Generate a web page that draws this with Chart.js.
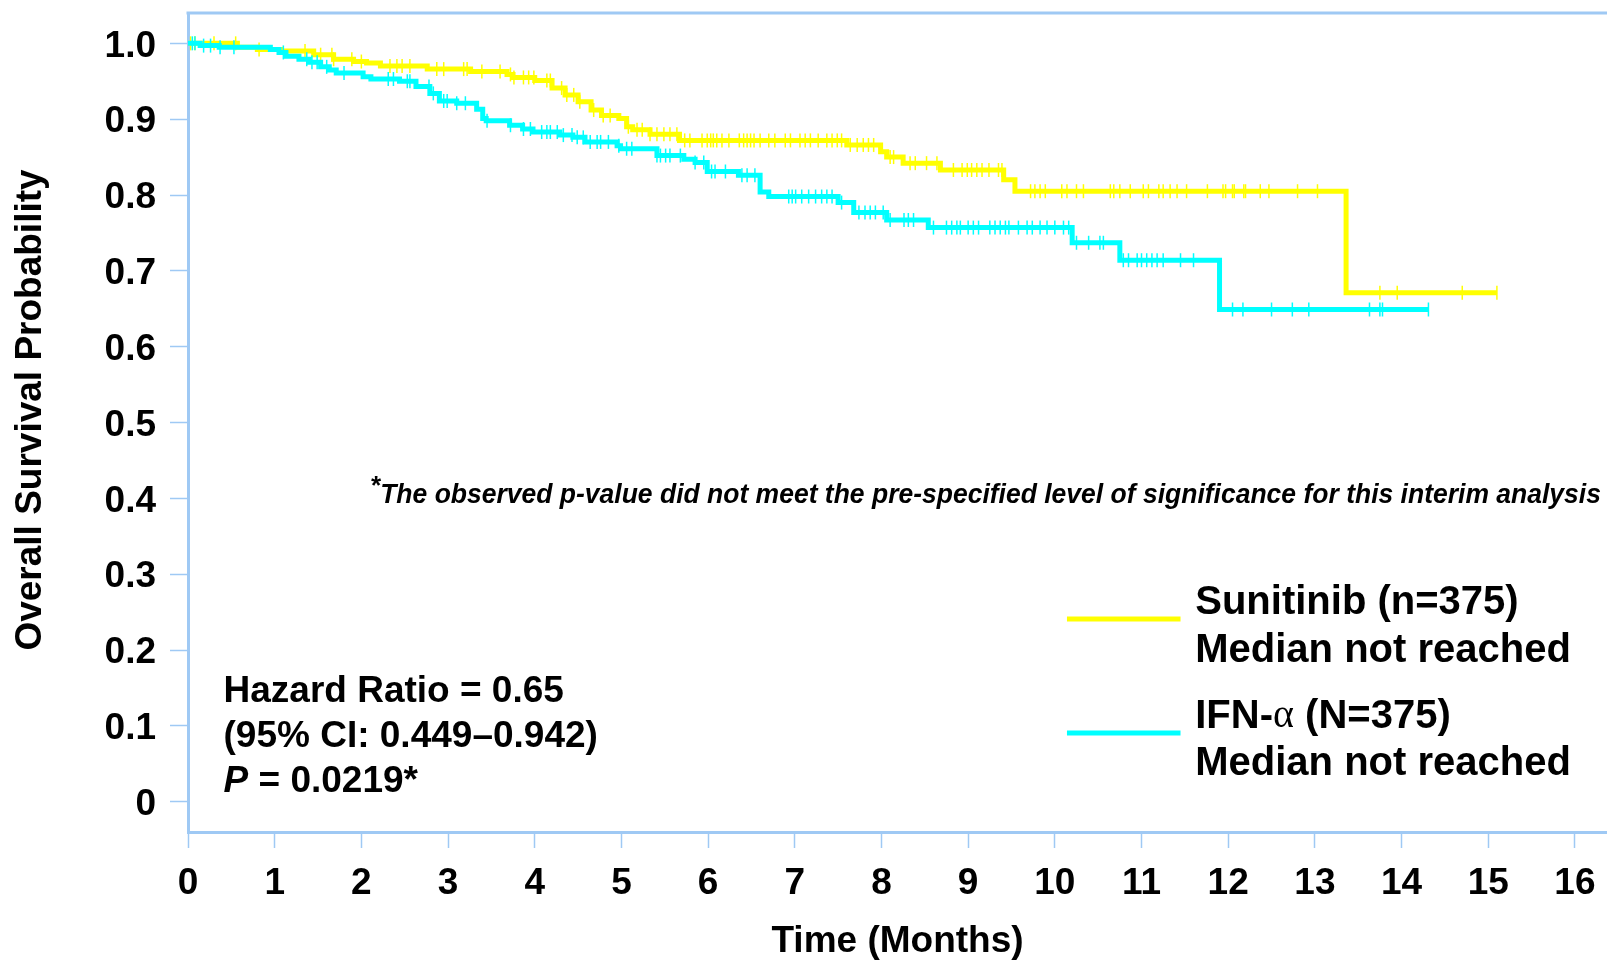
<!DOCTYPE html>
<html>
<head>
<meta charset="utf-8">
<script src="https://cdn.jsdelivr.net/npm/chart.js@4.4.1/dist/chart.umd.min.js"></script>
<style>
html,body{margin:0;padding:0;background:#fff;overflow:hidden}
canvas{display:block}
</style>
</head>
<body>
<canvas id="km" width="1607" height="962"></canvas>
<script>
// Kaplan-Meier steps: time (months) -> survival after the drop
const sunTimes = [0, 0.57, 0.80, 1.07, 1.45, 1.68, 1.91, 2.06, 2.22, 2.76, 3.26, 3.68, 3.75, 4.00, 4.20, 4.35, 4.50, 4.65, 4.77, 4.97, 5.06, 5.13, 5.33, 5.67, 7.60, 7.99, 8.06, 8.25, 8.68, 9.41, 9.54, 13.36, 15.10];
const sunSurv  = [1.0, 0.995, 0.992, 0.990, 0.985, 0.979, 0.976, 0.974, 0.970, 0.966, 0.963, 0.959, 0.955, 0.951, 0.941, 0.932, 0.923, 0.912, 0.905, 0.901, 0.890, 0.886, 0.880, 0.872, 0.866, 0.857, 0.850, 0.842, 0.833, 0.820, 0.805, 0.671, 0.671];

const ifnTimes = [0, 0.14, 0.36, 0.95, 1.05, 1.13, 1.28, 1.40, 1.53, 1.63, 1.71, 2.02, 2.11, 2.44, 2.63, 2.79, 2.90, 3.10, 3.33, 3.40, 3.44, 3.71, 3.86, 3.98, 4.29, 4.44, 4.58, 4.95, 4.99, 5.41, 5.72, 5.85, 5.99, 6.35, 6.60, 6.70, 7.50, 7.68, 8.06, 8.54, 10.20, 10.75, 11.90, 14.31];
const ifnSurv  = [1.0, 0.997, 0.995, 0.992, 0.988, 0.983, 0.979, 0.975, 0.969, 0.965, 0.961, 0.956, 0.953, 0.950, 0.943, 0.934, 0.924, 0.921, 0.913, 0.901, 0.898, 0.892, 0.887, 0.883, 0.879, 0.876, 0.870, 0.865, 0.861, 0.852, 0.847, 0.843, 0.831, 0.826, 0.804, 0.798, 0.790, 0.777, 0.767, 0.757, 0.737, 0.714, 0.649, 0.649];

// censored observations (tick marks), months
const sunCensor = [0.03,0.08,0.30,0.55,0.82,1.35,1.53,1.66,1.68,1.89,2.00,2.33,2.41,2.47,2.56,2.87,2.95,3.18,3.22,3.39,3.60,3.72,3.76,3.87,3.93,3.99,4.14,4.18,4.31,4.37,4.45,4.52,4.68,4.79,4.87,5.08,5.18,5.24,5.33,5.41,5.49,5.56,5.64,5.73,5.79,5.93,5.99,6.03,6.06,6.10,6.16,6.24,6.36,6.41,6.45,6.49,6.53,6.60,6.70,6.77,6.89,6.95,7.06,7.12,7.18,7.27,7.37,7.43,7.49,7.54,7.64,7.72,7.79,7.85,7.91,8.10,8.14,8.33,8.39,8.52,8.64,8.83,8.93,8.99,9.04,9.10,9.16,9.24,9.35,9.39,9.72,9.77,9.83,9.89,10.08,10.14,10.25,10.33,10.64,10.68,10.75,10.87,11.02,11.08,11.20,11.25,11.33,11.41,11.52,11.76,11.94,11.97,12.05,12.07,12.18,12.20,12.37,12.47,12.80,13.03,13.75,13.95,14.70,15.10];
const ifnCensor = [0.05,0.08,0.18,0.26,0.37,0.53,1.10,1.37,1.43,1.49,1.60,1.80,2.31,2.37,2.53,2.56,2.78,2.83,2.95,2.99,3.10,3.20,3.45,3.72,3.87,3.95,4.08,4.14,4.18,4.26,4.33,4.43,4.49,4.56,4.64,4.72,4.76,4.85,4.97,5.06,5.12,5.41,5.45,5.51,5.56,5.68,5.85,5.95,6.04,6.08,6.20,6.39,6.45,6.54,6.93,6.97,7.01,7.08,7.16,7.24,7.31,7.37,7.43,7.54,7.74,7.81,7.87,7.93,8.02,8.10,8.26,8.31,8.37,8.60,8.75,8.81,8.87,8.91,9.00,9.06,9.12,9.25,9.31,9.37,9.43,9.47,9.58,9.68,9.74,9.83,9.91,10.00,10.10,10.16,10.25,10.39,10.52,10.56,10.79,10.85,10.95,11.00,11.06,11.12,11.18,11.25,11.45,11.60,12.05,12.17,12.50,12.74,12.93,13.63,13.75,13.78,14.31];

const xTicks = [0,1,2,3,4,5,6,7,8,9,10,11,12,13,14,15,16];
const yTicks = [0,0.1,0.2,0.3,0.4,0.5,0.6,0.7,0.8,0.9,1.0];

const legendLabels = [['Sunitinib (n=375)','Median not reached'], ['IFN-','\u03B1',' (N=375)','Median not reached']];
const statLines = ['Hazard Ratio = 0.65', '(95% CI: 0.449\u20130.942)', ' = 0.0219*'];
const footnote = 'The observed p-value did not meet the pre-specified level of significance for this interim analysis';
const yTitle = 'Overall Survival Probability';

const YEL = '#ffff00', CYA = '#00ffff', AXIS = '#9fc9f4';
const FONT = '"Liberation Sans", Arial, Helvetica, sans-serif';

function steps(ts, ss){ return ts.map((t,i)=>({x:t, y:ss[i]})); }
function survAt(ts, ss, t){ let v=ss[0]; for(let i=0;i<ts.length;i++){ if(ts[i]<=t) v=ss[i]; } return v; }
function censorPts(c, ts, ss){ return c.map(t=>({x:t, y:survAt(ts, ss, t)})); }

// positions of the annotations in axis units (months, probability)
const notePos = {
  yTitle: {y:0.5165},
  stat: {x:0.41, y:[0.1453, 0.0857, 0.0264]},
  foot: {x:2.10, xEnd:16.30, y:0.4044},
  legLine: {x0:10.14, x1:11.45, y:[0.2409, 0.0906]},
  legText: {x:11.62, y:[0.2621, 0.1987, 0.1117, 0.0497]}
};

const overlay = {
  id: 'overlay',
  afterDraw(chart){
    const {ctx, chartArea:a, scales:{x, y}} = chart;
    ctx.save();
    // top frame line
    ctx.strokeStyle = AXIS; ctx.lineWidth = 3;
    ctx.beginPath(); ctx.moveTo(a.left-1.5, a.top); ctx.lineTo(a.right, a.top); ctx.stroke();

    ctx.fillStyle = '#000'; ctx.textBaseline = 'middle';
    // y axis title
    ctx.save();
    ctx.translate(31, y.getPixelForValue(notePos.yTitle.y));
    ctx.rotate(-Math.PI/2);
    ctx.textAlign = 'center';
    ctx.font = 'bold 37px ' + FONT;
    ctx.fillText(yTitle, 0, 0);
    ctx.restore();

    ctx.textAlign = 'left';
    // hazard ratio block
    const sx = x.getPixelForValue(notePos.stat.x);
    ctx.font = 'bold 37px ' + FONT;
    ctx.fillText(statLines[0], sx, y.getPixelForValue(notePos.stat.y[0]));
    ctx.fillText(statLines[1], sx, y.getPixelForValue(notePos.stat.y[1]));
    const py = y.getPixelForValue(notePos.stat.y[2]);
    ctx.font = 'bold italic 37px ' + FONT;
    ctx.fillText('P', sx, py);
    const pw = ctx.measureText('P').width;
    ctx.font = 'bold 37px ' + FONT;
    ctx.fillText(statLines[2], sx + pw, py);

    // footnote
    const fx = x.getPixelForValue(notePos.foot.x), fy = y.getPixelForValue(notePos.foot.y);
    ctx.font = 'bold italic 26px ' + FONT;
    ctx.fillText('*', fx, fy - 8);
    const aw = ctx.measureText('*').width;
    ctx.font = 'bold italic 28px ' + FONT;
    const tw = ctx.measureText(footnote).width;
    const target = x.getPixelForValue(notePos.foot.xEnd) - (fx + aw);
    ctx.save();
    ctx.translate(fx + aw, fy);
    ctx.scale(target / tw, 1);
    ctx.fillText(footnote, 0, 0);
    ctx.restore();

    // legend
    const lx0 = x.getPixelForValue(notePos.legLine.x0), lx1 = x.getPixelForValue(notePos.legLine.x1);
    [YEL, CYA].forEach((c,i)=>{
      const ly = y.getPixelForValue(notePos.legLine.y[i]);
      ctx.strokeStyle = c; ctx.lineWidth = 5;
      ctx.beginPath(); ctx.moveTo(lx0, ly); ctx.lineTo(lx1, ly); ctx.stroke();
    });
    const tx = x.getPixelForValue(notePos.legText.x);
    const ty = notePos.legText.y.map(v=>y.getPixelForValue(v));
    ctx.font = 'bold 40px ' + FONT;
    ctx.fillText(legendLabels[0][0], tx, ty[0]);
    ctx.fillText(legendLabels[0][1], tx, ty[1]);
    // IFN-alpha line, alpha in a serif face
    let cx = tx;
    ctx.fillText(legendLabels[1][0], cx, ty[2]); cx += ctx.measureText(legendLabels[1][0]).width;
    ctx.font = '40px "Liberation Serif", "Times New Roman", serif';
    ctx.fillText(legendLabels[1][1], cx, ty[2]); cx += ctx.measureText(legendLabels[1][1]).width;
    ctx.font = 'bold 40px ' + FONT;
    ctx.fillText(legendLabels[1][2], cx, ty[2]);
    ctx.fillText(legendLabels[1][3], tx, ty[3]);
    ctx.restore();
  }
};

new Chart(document.getElementById('km'), {
  type: 'line',
  data: {
    datasets: [
      {label:'IFN-\u03B1', data: steps(ifnTimes, ifnSurv), borderColor: CYA, borderWidth: 5, stepped: true, pointRadius: 0, order: 0},
      {label:'IFN censored', type:'scatter', data: censorPts(ifnCensor, ifnTimes, ifnSurv), borderColor: CYA, backgroundColor: CYA, pointStyle: 'line', rotation: 90, pointRadius: 7, borderWidth: 1.5, order: 0},
      {label:'Sunitinib', data: steps(sunTimes, sunSurv), borderColor: YEL, borderWidth: 5, stepped: true, pointRadius: 0, order: 1},
      {label:'Sunitinib censored', type:'scatter', data: censorPts(sunCensor, sunTimes, sunSurv), borderColor: YEL, backgroundColor: YEL, pointStyle: 'line', rotation: 90, pointRadius: 7, borderWidth: 1.5, order: 1}
    ]
  },
  options: {
    responsive: false,
    animation: false,
    devicePixelRatio: 1,
    layout: {autoPadding: false, padding: {top: 13, right: 0, bottom: 0, left: 0}},
    plugins: {legend: {display: false}, tooltip: {enabled: false}},
    scales: {
      x: {
        type: 'linear', min: 0, max: 16.37,
        afterBuildTicks: s => { s.ticks = xTicks.map(v=>({value:v})); },
        afterFit: s => { s.height = 130; s.paddingLeft = 0; s.paddingRight = 0; },
        grid: {drawOnChartArea: false, drawTicks: true, tickLength: 16, tickColor: AXIS, tickWidth: 1.5, color: AXIS},
        border: {display: true, color: AXIS, width: 3},
        ticks: {color: '#000', font: {family: FONT, size: 37, weight: 'bold'}, padding: 14, maxRotation: 0, autoSkip: false},
        title: {display: true, text: 'Time (Months)', color: '#000', font: {family: FONT, size: 37, weight: 'bold', lineHeight: 1.1}, padding: {top: 0, bottom: 0}}
      },
      y: {
        type: 'linear', min: -0.04, max: 1.04,
        afterBuildTicks: s => { s.ticks = yTicks.map(v=>({value:v})); },
        afterFit: s => { s.width = 188; s.paddingTop = 0; s.paddingBottom = 0; },
        grid: {drawOnChartArea: false, drawTicks: true, tickLength: 18, tickColor: AXIS, tickWidth: 1.5, color: AXIS},
        border: {display: true, color: AXIS, width: 3},
        ticks: {color: '#000', font: {family: FONT, size: 37, weight: 'bold'}, padding: 14, autoSkip: false, labelOffset: 3,
          callback: v => v === 0 ? '0' : v.toFixed(1)}
      }
    }
  },
  plugins: [overlay]
});
</script>
</body>
</html>
